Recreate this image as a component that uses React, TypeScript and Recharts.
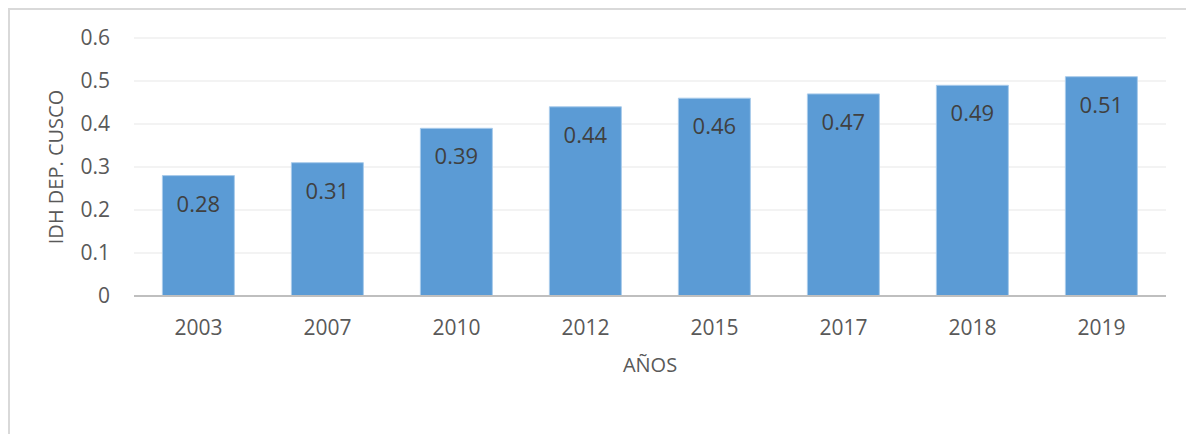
import { Bar, BarChart, CartesianGrid, LabelList, XAxis, YAxis } from "recharts";

const years = ["2003", "2007", "2010", "2012", "2015", "2017", "2018", "2019"];
const idhValues = [0.28, 0.31, 0.39, 0.44, 0.46, 0.47, 0.49, 0.51];
const yTicks = [0, 0.1, 0.2, 0.3, 0.4, 0.5, 0.6];

const FONT = "'Open Sans', 'Noto Sans', sans-serif";

type Row = { year: string; idh: number };

function BarValueLabel(props: any) {
  const { x, y, width, value } = props;
  return (
    <text
      x={Number(x) + Number(width) / 2}
      y={Number(y) + 27}
      textAnchor="middle"
      dominantBaseline="central"
      fontSize={22}
      fontFamily={FONT}
      fill="#404040"
    >
      {Number(value).toFixed(2)}
    </text>
  );
}

export default function App() {
  const data: Row[] = years.map((year, i) => ({ year, idh: idhValues[i] }));

  return (
    <div
      style={{
        position: "absolute",
        left: 8,
        top: 8,
        width: 1178,
        height: 426,
        overflow: "hidden",
        boxSizing: "border-box",
        borderTop: "2px solid #D9D9D9",
        borderLeft: "2px solid #D9D9D9",
        background: "#fff",
      }}
    >
      <BarChart
        width={1176}
        height={424}
        data={data}
        margin={{ top: 28, right: 20, left: 0, bottom: 0 }}
        barCategoryGap="22%"
      >
        <CartesianGrid
          vertical={false}
          stroke="#EFEFEF"
          strokeWidth={1.5}
        />
        <XAxis
          dataKey="year"
          height={138}
          tickSize={0}
          tickMargin={24}
          axisLine={{ stroke: "#BFBFBF", strokeWidth: 2 }}
          tick={{ fontSize: 21, fill: "#595959", fontFamily: FONT }}
          label={{
            value: "AÑOS",
            position: "center",
            fontSize: 20,
            fill: "#595959",
            fontFamily: FONT,
          }}
        />
        <YAxis
          width={124}
          domain={[0, 0.6]}
          ticks={yTicks}
          interval={0}
          tickSize={0}
          tickMargin={24}
          axisLine={false}
          tickFormatter={(v: number) => (v === 0 ? "0" : String(v))}
          tick={{ fontSize: 21, fill: "#595959", fontFamily: FONT }}
          label={{
            value: "IDH DEP. CUSCO",
            angle: -90,
            position: "center",
            dx: -16,
            fontSize: 20,
            fill: "#595959",
            fontFamily: FONT,
          }}
        />
        <Bar
          dataKey="idh"
          fill="#5B9BD5"
          stroke="#A9CBEB"
          strokeWidth={1}
          isAnimationActive={false}
        >
          <LabelList dataKey="idh" content={BarValueLabel} />
        </Bar>
      </BarChart>
    </div>
  );
}
